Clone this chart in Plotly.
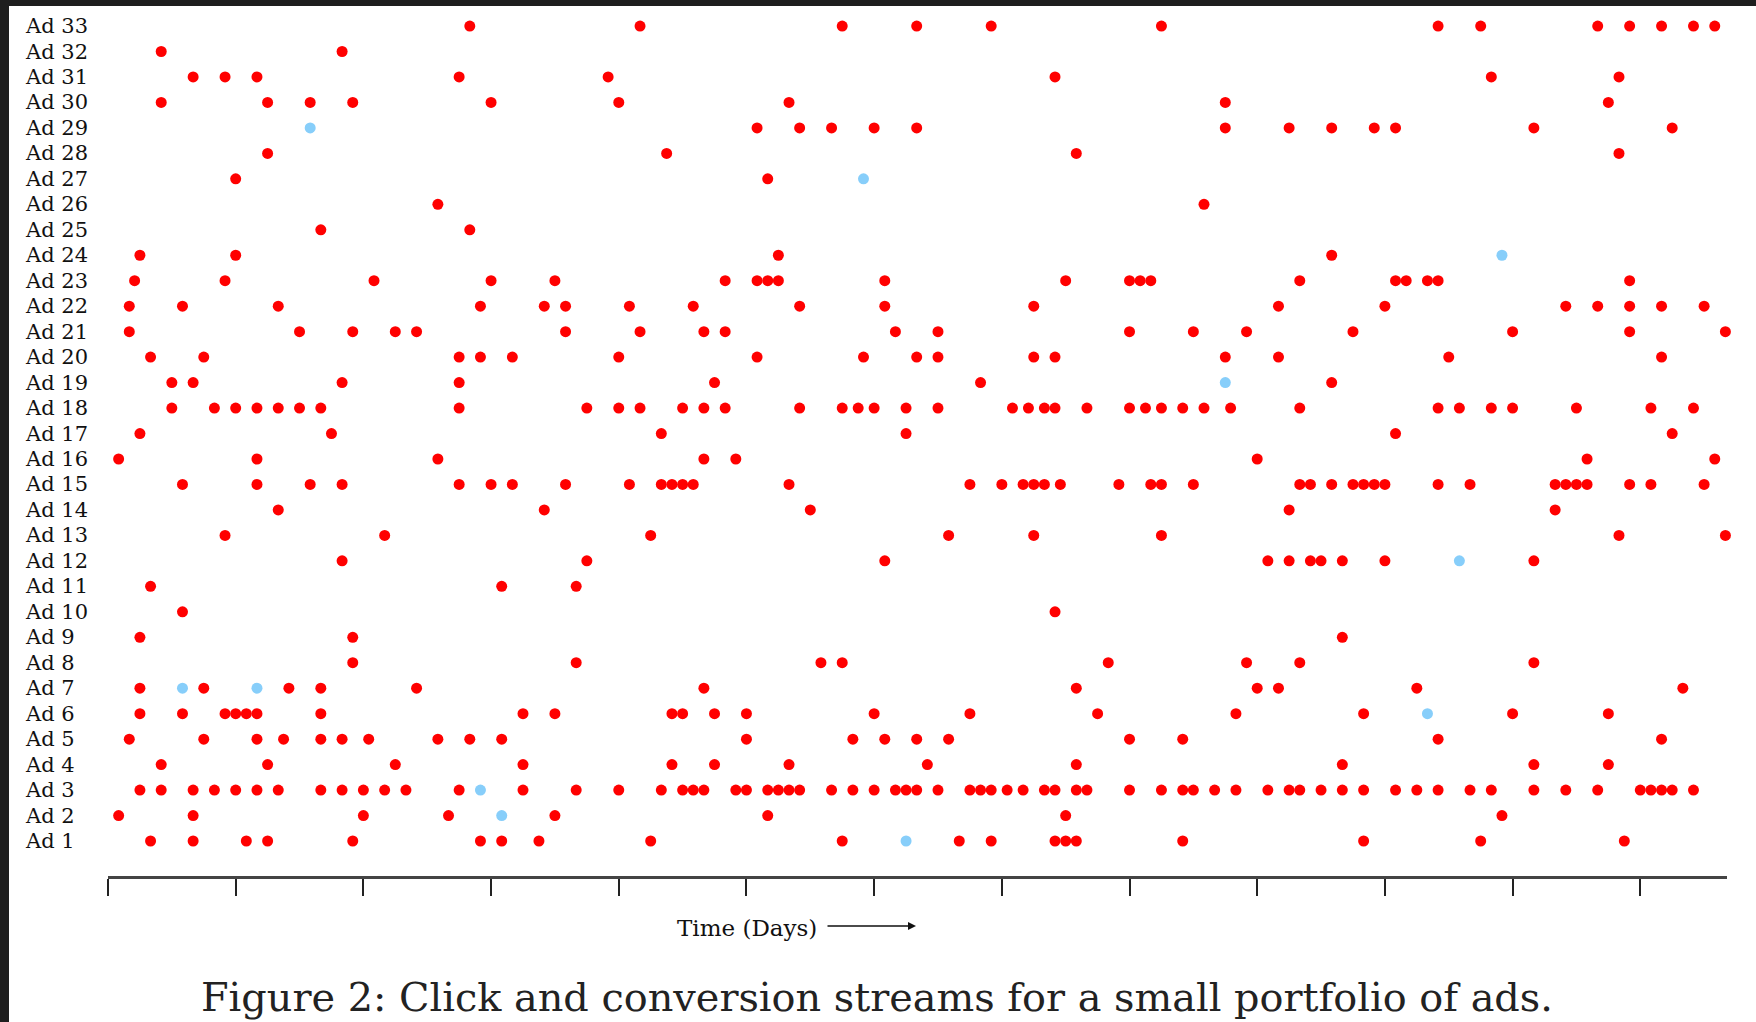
import plotly.graph_objects as go

# ---- data: hours since start (ticks every 24 h = 1 day) ----
ad_labels = ["Ad 1", "Ad 2", "Ad 3", "Ad 4", "Ad 5", "Ad 6", "Ad 7", "Ad 8", "Ad 9", "Ad 10",
             "Ad 11", "Ad 12", "Ad 13", "Ad 14", "Ad 15", "Ad 16", "Ad 17", "Ad 18", "Ad 19", "Ad 20",
             "Ad 21", "Ad 22", "Ad 23", "Ad 24", "Ad 25", "Ad 26", "Ad 27", "Ad 28", "Ad 29", "Ad 30",
             "Ad 31", "Ad 32", "Ad 33"]

clicks_ad1 = [8, 16, 26, 30, 46, 70, 74, 81, 102, 138, 160, 166, 178, 180, 182, 202, 236, 258, 285]
clicks_ad2 = [2, 16, 48, 64, 84, 124, 180, 262]
clicks_ad3 = [6, 10, 16, 20, 24, 28, 32, 40, 44, 48, 52, 56, 66, 78, 88, 96, 104, 108, 110, 112,
              118, 120, 124, 126, 128, 130, 136, 140, 144, 148, 150, 152, 156, 162, 164, 166, 169,
              172, 176, 178, 182, 184, 192, 198, 202, 204, 208, 212, 218, 222, 224, 228, 232, 236,
              242, 246, 250, 256, 260, 268, 274, 280, 288, 290, 292, 294, 298]
clicks_ad4 = [10, 30, 54, 78, 106, 114, 128, 154, 182, 232, 268, 282]
clicks_ad5 = [4, 18, 28, 33, 40, 44, 49, 62, 68, 74, 120, 140, 146, 152, 158, 192, 202, 250, 292]
clicks_ad6 = [6, 14, 22, 24, 26, 28, 40, 78, 84, 106, 108, 114, 120, 144, 162, 186, 212, 236, 264, 282]
clicks_ad7 = [6, 18, 34, 40, 58, 112, 182, 216, 220, 246, 296]
clicks_ad8 = [46, 88, 134, 138, 188, 214, 224, 268]
clicks_ad9 = [6, 46, 232]
clicks_ad10 = [14, 178]
clicks_ad11 = [8, 74, 88]
clicks_ad12 = [44, 90, 146, 218, 222, 226, 228, 232, 240, 268]
clicks_ad13 = [22, 52, 102, 158, 174, 198, 284, 304]
clicks_ad14 = [32, 82, 132, 222, 272]
clicks_ad15 = [14, 28, 38, 44, 66, 72, 76, 86, 98, 104, 106, 108, 110, 128, 162, 168, 172, 174,
               176, 179, 190, 196, 198, 204, 224, 226, 230, 234, 236, 238, 240, 250, 256, 272,
               274, 276, 278, 286, 290, 300]
clicks_ad16 = [2, 28, 62, 112, 118, 216, 278, 302]
clicks_ad17 = [6, 42, 104, 150, 242, 294]
clicks_ad18 = [12, 20, 24, 28, 32, 36, 40, 66, 90, 96, 100, 108, 112, 116, 130, 138, 141, 144,
               150, 156, 170, 173, 176, 178, 184, 192, 195, 198, 202, 206, 211, 224, 250, 254,
               260, 264, 276, 290, 298]
clicks_ad19 = [12, 16, 44, 66, 114, 164, 230]
clicks_ad20 = [8, 18, 66, 70, 76, 96, 122, 142, 152, 156, 174, 178, 210, 220, 252, 292]
clicks_ad21 = [4, 36, 46, 54, 58, 86, 100, 112, 116, 148, 156, 192, 204, 214, 234, 264, 286, 304]
clicks_ad22 = [4, 14, 32, 70, 82, 86, 98, 110, 130, 146, 174, 220, 240, 274, 280, 286, 292, 300]
clicks_ad23 = [5, 22, 50, 72, 84, 116, 122, 124, 126, 146, 180, 192, 194, 196, 224, 242, 244,
               248, 250, 286]
clicks_ad24 = [6, 24, 126, 230]
clicks_ad25 = [40, 68]
clicks_ad26 = [62, 206]
clicks_ad27 = [24, 124]
clicks_ad28 = [30, 105, 182, 284]
clicks_ad29 = [122, 130, 136, 144, 152, 210, 222, 230, 238, 242, 268, 294]
clicks_ad30 = [10, 30, 38, 46, 72, 96, 128, 210, 282]
clicks_ad31 = [16, 22, 28, 66, 94, 178, 260, 284]
clicks_ad32 = [10, 44]
clicks_ad33 = [68, 100, 138, 152, 166, 198, 250, 258, 280, 286, 292, 298, 302]

conversion_ad = [1, 2, 3, 6, 7, 7, 12, 19, 24, 27, 29]
conversion_hour = [150, 74, 70, 248, 14, 28, 254, 210, 262, 142, 38]

day_ticks = [0, 24, 48, 72, 96, 120, 144, 168, 192, 216, 240, 264, 288]

click_series = [clicks_ad1, clicks_ad2, clicks_ad3, clicks_ad4, clicks_ad5, clicks_ad6, clicks_ad7,
                clicks_ad8, clicks_ad9, clicks_ad10, clicks_ad11, clicks_ad12, clicks_ad13,
                clicks_ad14, clicks_ad15, clicks_ad16, clicks_ad17, clicks_ad18, clicks_ad19,
                clicks_ad20, clicks_ad21, clicks_ad22, clicks_ad23, clicks_ad24, clicks_ad25,
                clicks_ad26, clicks_ad27, clicks_ad28, clicks_ad29, clicks_ad30, clicks_ad31,
                clicks_ad32, clicks_ad33]

# ---- layout geometry (pixels) ----
W, H = 1756, 1022
L, R, T, B = 108, 29, 10, 146
PW = W - L - R
PH = H - T - B


def px_x(p):
    return (p - L) / PW


def px_y(p):
    return (H - B - p) / PH


xs, ys = [], []
for i, hours in enumerate(click_series):
    for h in hours:
        xs.append(h)
        ys.append(i + 1)

fig = go.Figure()
fig.add_trace(go.Scatter(x=xs, y=ys, mode="markers", name="Click",
                         marker=dict(color="#ff0000", size=11, line=dict(width=0)),
                         cliponaxis=False, showlegend=False))
fig.add_trace(go.Scatter(x=conversion_hour, y=conversion_ad, mode="markers", name="Conversion",
                         marker=dict(color="#87cefa", size=11, line=dict(width=0)),
                         cliponaxis=False, showlegend=False))

annotations = []
for i, lab in enumerate(ad_labels):
    annotations.append(dict(x=px_x(23), xref="paper", y=i + 1, yref="y", text=lab,
                            showarrow=False, xanchor="left", yanchor="middle",
                            font=dict(family="DejaVu Serif", size=21, color="#111111")))

annotations.append(dict(x=px_x(747), xref="paper", y=px_y(928), yref="paper",
                        text="Time (Days)", showarrow=False, xanchor="center", yanchor="middle",
                        font=dict(family="DejaVu Serif", size=23, color="#111111")))
annotations.append(dict(x=px_x(916), xref="paper", y=px_y(926), yref="paper", text="",
                        showarrow=True, ax=-90, ay=0, axref="pixel", ayref="pixel",
                        arrowhead=2, arrowsize=1, arrowwidth=1.6, arrowcolor="#111111"))
annotations.append(dict(x=px_x(877), xref="paper", y=px_y(997), yref="paper",
                        text="Figure 2: Click and conversion streams for a small portfolio of ads.",
                        showarrow=False, xanchor="center", yanchor="middle",
                        font=dict(family="DejaVu Serif", size=39.8, color="#222222")))

dark = "#1e1e1e"
shapes = [
    dict(type="rect", xref="paper", yref="paper", x0=px_x(0), x1=px_x(9), y0=px_y(H), y1=px_y(0),
         fillcolor=dark, line=dict(width=0), layer="above"),
    dict(type="rect", xref="paper", yref="paper", x0=px_x(0), x1=px_x(W), y0=px_y(6), y1=px_y(0),
         fillcolor=dark, line=dict(width=0), layer="above"),
]

fig.update_layout(
    width=W, height=H,
    margin=dict(l=L, r=R, t=T, b=B, pad=0),
    paper_bgcolor="white", plot_bgcolor="white",
    annotations=annotations, shapes=shapes,
    showlegend=False,
    xaxis=dict(range=[0, 304.3], tickvals=day_ticks, ticks="outside", ticklen=17, tickwidth=2,
               tickcolor="#222222", showticklabels=False, showline=True, linewidth=2.5,
               linecolor="#444444", showgrid=False, zeroline=False, fixedrange=True),
    yaxis=dict(range=[-0.374, 33.63], showticklabels=False, ticks="", showline=False,
               showgrid=False, zeroline=False, fixedrange=True),
)

fig.write_html("out.html")
